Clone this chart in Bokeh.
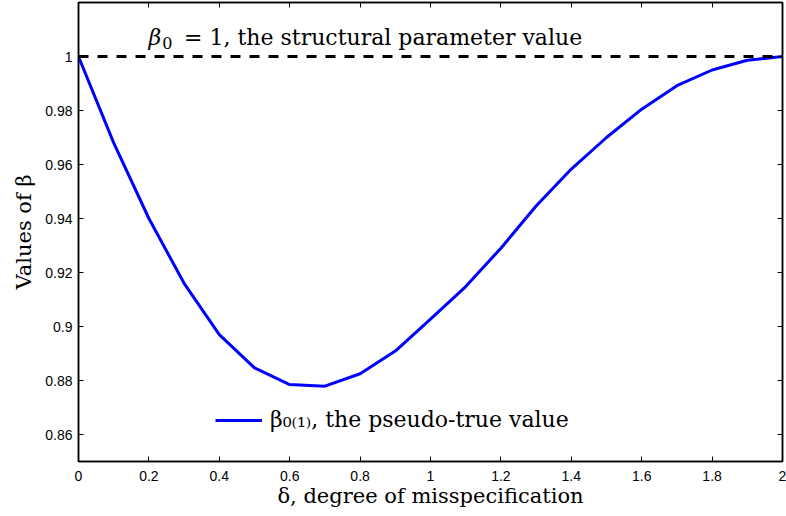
from bokeh.plotting import figure
from bokeh.models import (LinearAxis, FixedTicker, Label, Legend, LegendItem,
                          Range1d, Span)
from bokeh.embed import file_html
from bokeh.resources import INLINE

# ---- data ----
delta = [0.0, 0.1, 0.2, 0.3, 0.4, 0.5, 0.6, 0.7, 0.8, 0.9, 1.0,
         1.1, 1.2, 1.3, 1.4, 1.5, 1.6, 1.7, 1.8, 1.9, 2.0]
beta_pseudo = [1.0, 0.968, 0.940, 0.916, 0.897, 0.8847, 0.8785, 0.8779, 0.8825,
               0.8909, 0.9027, 0.9148, 0.9290, 0.9446, 0.9583, 0.9700, 0.9805,
               0.9892, 0.9950, 0.9986, 1.0]
beta_struct = 1.0
x_ticks = [0.0, 0.2, 0.4, 0.6, 0.8, 1.0, 1.2, 1.4, 1.6, 1.8, 2.0]
x_tick_labels = ["0", "0.2", "0.4", "0.6", "0.8", "1", "1.2", "1.4", "1.6", "1.8", "2"]
y_ticks = [0.86, 0.88, 0.90, 0.92, 0.94, 0.96, 0.98, 1.0]
y_tick_labels = ["0.86", "0.88", "0.9", "0.92", "0.94", "0.96", "0.98", "1"]

SERIF = "DejaVu Serif"
SANS = "Liberation Sans"

p = figure(width=786, height=516, output_backend="svg", toolbar_location=None,
           x_range=Range1d(0, 2), y_range=Range1d(0.85, 1.02),
           min_border_left=78, min_border_right=4, min_border_top=2,
           min_border_bottom=55, background_fill_color="white",
           border_fill_color="white")
p.grid.visible = False
p.outline_line_color = "black"
p.outline_line_width = 1.5

xt = FixedTicker(ticks=x_ticks)
yt = FixedTicker(ticks=y_ticks)
xover = {t: s for t, s in zip(x_ticks, x_tick_labels)}
yover = {t: s for t, s in zip(y_ticks, y_tick_labels)}

for ax in p.xaxis:
    ax.ticker = xt
    ax.major_label_overrides = xover
    ax.axis_label = "δ, degree of misspecification"
    ax.axis_label_standoff = 0
    ax.major_label_standoff = 9
for ax in p.yaxis:
    ax.ticker = yt
    ax.major_label_overrides = yover
    ax.axis_label = "Values of β"
    ax.axis_label_standoff = 6
    ax.major_label_standoff = 6
for ax in list(p.xaxis) + list(p.yaxis):
    ax.axis_label_text_font = SERIF
    ax.axis_label_text_font_style = "normal"
    ax.axis_label_text_font_size = "21px"
    ax.axis_label_text_color = "black"
    ax.major_tick_in = 5
    ax.major_tick_out = 0
    ax.minor_tick_line_color = None
    ax.axis_line_color = "black"
    ax.axis_line_width = 1.5
    ax.major_tick_line_color = "black"
    ax.major_label_text_font = SANS
    ax.major_label_text_font_size = "14px"
    ax.major_label_text_color = "black"

# mirrored ticks on top and right (no labels)
top = LinearAxis(ticker=xt, major_tick_in=5, major_tick_out=0,
                 minor_tick_line_color=None,
                 major_label_overrides={t: "" for t in x_ticks},
                 major_label_standoff=0, axis_line_color="black", axis_line_width=1.5)
right = LinearAxis(ticker=yt, major_tick_in=5, major_tick_out=0,
                   minor_tick_line_color=None,
                   major_label_overrides={t: "" for t in y_ticks},
                   major_label_standoff=0, axis_line_color="black", axis_line_width=1.5)
p.add_layout(top, "above")
p.add_layout(right, "right")

# structural value (dashed)
p.add_layout(Span(location=beta_struct, dimension="width", line_color="black",
                  line_width=3, line_dash="10 9"))

r = p.line(delta, beta_pseudo, line_color="#0000ff", line_width=3)

legend = Legend(items=[LegendItem(label="β₀₍₁₎, the pseudo-true value", renderers=[r])],
                location=(137, 29), padding=0, margin=0, spacing=0,
                glyph_width=47, glyph_height=24, label_standoff=8,
                border_line_alpha=0, background_fill_alpha=0,
                label_text_font=SERIF, label_text_font_size="22px",
                label_text_color="black")
p.add_layout(legend)

# top annotation: "β0 = 1, the structural parameter value"
p.add_layout(Label(x=0.199, y=1.0070, text="β", text_font=SERIF,
                   text_font_style="italic", text_font_size="22px",
                   text_baseline="alphabetic", text_color="black"))
p.add_layout(Label(x=0.238, y=1.0050, text="0", text_font=SERIF,
                   text_font_size="16px", text_baseline="alphabetic",
                   text_color="black"))
p.add_layout(Label(x=0.300, y=1.0070, text="= 1, the structural parameter value",
                   text_font=SERIF, text_font_size="22px",
                   text_baseline="alphabetic", text_color="black"))

open("out.html", "w").write(file_html(p, INLINE))
